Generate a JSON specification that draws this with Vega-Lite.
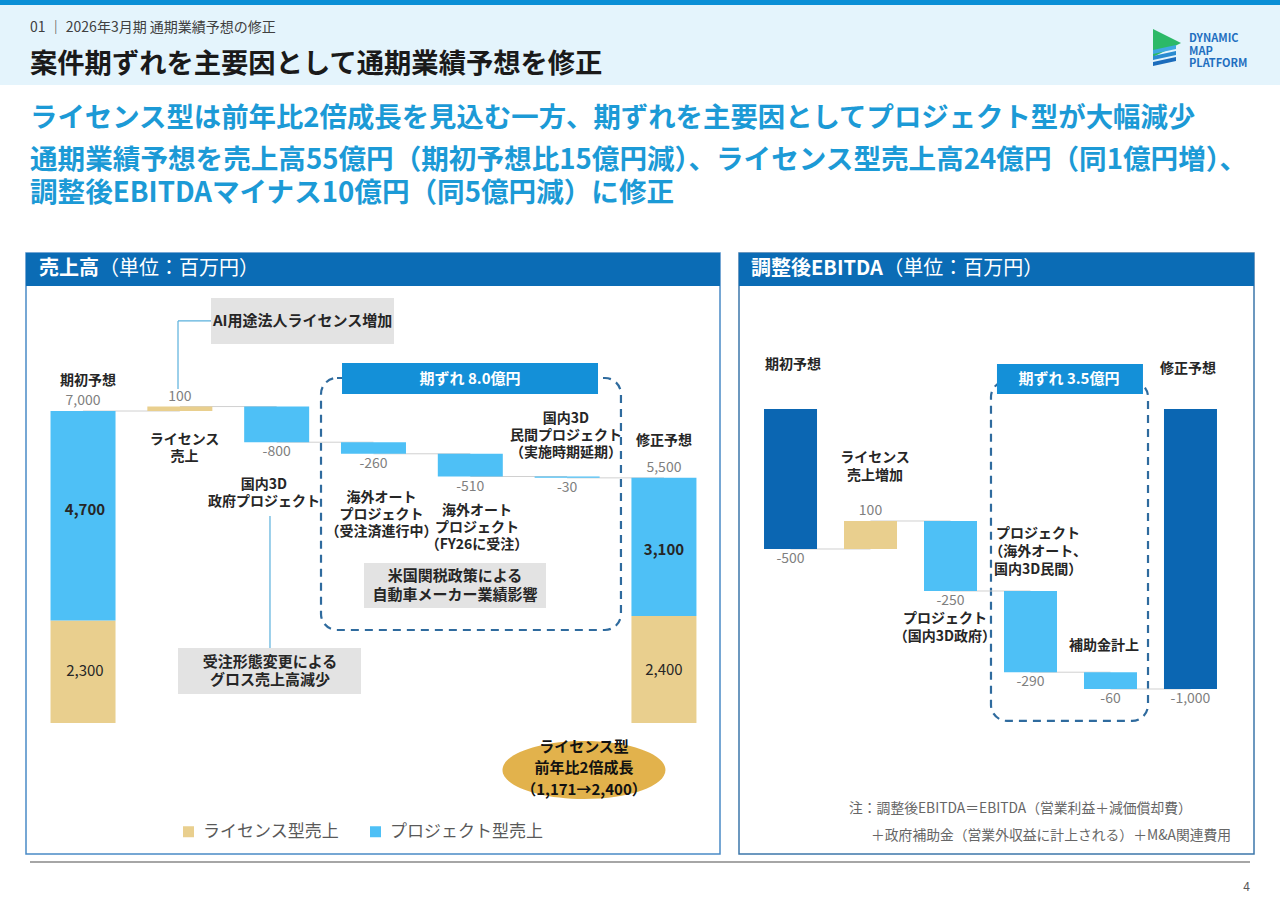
{
  "$schema": "https://vega.github.io/schema/vega-lite/v6.json",
  "padding": 0,
  "background": "#ffffff",
  "spacing": 0,
  "config": {
    "font": "Noto Sans CJK JP",
    "view": {"stroke": null},
    "locale": {"number": {"decimal": ".", "thousands": ",", "grouping": [3], "currency": ["", ""], "minus": "-"}},
    "concat": {"spacing": 0}
  },
  "datasets": {
    "sales_header": [{"panel": "売上高", "pos": -0.589, "pos2": 6.579, "val": 9805, "val2": 10545}],
    "sales_header_text": [
      {"label": "売上高", "part": "title", "pos": -0.454, "val": 10186},
      {"label": "（単位：百万円）", "part": "unit", "pos": 0.165, "val": 10186}
    ],
    "sales_period_frame": [{"group": "期ずれ", "pos": 2.458, "pos2": 5.556, "val": 2087, "val2": 7741}],
    "sales_period_box": [{"group": "期ずれ", "pos": 2.675, "pos2": 5.319, "val": 7382, "val2": 8077}],
    "sales_period_text": [{"label": "期ずれ 8.0億円", "pos": 3.997, "val": 7718}],
    "sales_links": [
      {"pos": 0, "pos2": 1, "val": 7000},
      {"pos": 1, "pos2": 2, "val": 7100},
      {"pos": 2, "pos2": 3, "val": 6300},
      {"pos": 3, "pos2": 4, "val": 6040},
      {"pos": 4, "pos2": 5, "val": 5530},
      {"pos": 5, "pos2": 6, "val": 5500}
    ],
    "sales_bars": [
      {"item": "期初予想", "segment": "ライセンス型売上", "pos": 0, "val": 0, "val2": 2300},
      {"item": "期初予想", "segment": "プロジェクト型売上", "pos": 0, "val": 2300, "val2": 7000},
      {"item": "ライセンス売上", "segment": "ライセンス型売上", "pos": 1, "val": 7000, "val2": 7100},
      {"item": "国内3D政府プロジェクト", "segment": "プロジェクト型売上", "pos": 2, "val": 7100, "val2": 6300},
      {"item": "海外オートプロジェクト（受注済進行中）", "segment": "プロジェクト型売上", "pos": 3, "val": 6300, "val2": 6040},
      {"item": "海外オートプロジェクト（FY26に受注）", "segment": "プロジェクト型売上", "pos": 4, "val": 6040, "val2": 5530},
      {"item": "国内3D民間プロジェクト（実施時期延期）", "segment": "プロジェクト型売上", "pos": 5, "val": 5530, "val2": 5500},
      {"item": "修正予想", "segment": "ライセンス型売上", "pos": 6, "val": 0, "val2": 2400},
      {"item": "修正予想", "segment": "プロジェクト型売上", "pos": 6, "val": 2400, "val2": 5500}
    ],
    "sales_steps": [
      {"item": "期初予想", "pos": 0, "start": 0, "val": 7000, "amount": 7000},
      {"item": "ライセンス売上", "pos": 1, "start": 7000, "val": 7100, "amount": 100},
      {"item": "国内3D政府プロジェクト", "pos": 2, "start": 7100, "val": 6300, "amount": -800},
      {"item": "海外オートプロジェクト（受注済進行中）", "pos": 3, "start": 6300, "val": 6040, "amount": -260},
      {"item": "海外オートプロジェクト（FY26に受注）", "pos": 4, "start": 6040, "val": 5530, "amount": -510},
      {"item": "国内3D民間プロジェクト（実施時期延期）", "pos": 5, "start": 5530, "val": 5500, "amount": -30},
      {"item": "修正予想", "pos": 6, "start": 0, "val": 5500, "amount": 5500}
    ],
    "sales_segment_labels": [
      {"item": "期初予想", "segment": "プロジェクト型売上", "pos": 0.02, "val": 4780, "amount": 4700},
      {"item": "期初予想", "segment": "ライセンス型売上", "pos": 0.02, "val": 1167, "amount": 2300},
      {"item": "修正予想", "segment": "プロジェクト型売上", "pos": 6, "val": 3882, "amount": 3100},
      {"item": "修正予想", "segment": "ライセンス型売上", "pos": 6, "val": 1189, "amount": 2400}
    ],
    "sales_category_labels": [
      {"label": ["期初予想"], "pos": 0.052, "val": 7673},
      {"label": ["ライセンス", "売上"], "pos": 1.048, "val": 6350},
      {"label": ["国内3D", "政府プロジェクト"], "pos": 1.869, "val": 5340},
      {"label": ["海外オート", "プロジェクト", "（受注済進行中）"], "pos": 3.083, "val": 5048},
      {"label": ["海外オート", "プロジェクト", "（FY26に受注）"], "pos": 4.069, "val": 4757},
      {"label": ["国内3D", "民間プロジェクト", "（実施時期延期）"], "pos": 4.988, "val": 6821},
      {"label": ["修正予想"], "pos": 6.0, "val": 6327}
    ],
    "sales_notes": [
      {"note": "AI用途法人ライセンス増加", "pos": 1.322, "pos2": 3.212, "val": 8504, "val2": 9536},
      {"note": "米国関税政策による自動車メーカー業績影響", "pos": 2.902, "pos2": 4.782, "val": 2580, "val2": 3590},
      {"note": "受注形態変更によるグロス売上高減少", "pos": 0.981, "pos2": 2.871, "val": 651, "val2": 1683}
    ],
    "sales_note_texts": [
      {"label": ["AI用途法人ライセンス増加"], "pos": 2.267, "val": 9020},
      {"label": ["米国関税政策による", "自動車メーカー業績影響"], "pos": 3.842, "val": 3298},
      {"label": ["受注形態変更による", "グロス売上高減少"], "pos": 1.931, "val": 1369}
    ],
    "sales_leaders": [
      {"pos": 0.981, "pos2": 0.981, "val": 7494, "val2": 9020},
      {"pos": 0.981, "pos2": 1.322, "val": 9020, "val2": 9020},
      {"pos": 1.931, "pos2": 1.931, "val": 4644, "val2": 1683}
    ],
    "sales_highlight": [{"note": "ライセンス型 前年比2倍成長（1,171→2,400）", "pos": 5.174, "val": -1055}],
    "sales_highlight_text": [{"label": ["ライセンス型", "前年比2倍成長", "（1,171→2,400）"], "pos": 5.174, "val": -538}],
    "ebitda_header": [{"panel": "調整後EBITDA", "pos": -0.644, "pos2": 5.794, "val": 439.3, "val2": 557.1}],
    "ebitda_header_text": [
      {"label": "調整後EBITDA", "part": "title", "pos": -0.494, "val": 500},
      {"label": "（単位：百万円）", "part": "unit", "pos": 1.16, "val": 500}
    ],
    "ebitda_period_frame": [{"group": "期ずれ", "pos": 2.506, "pos2": 4.469, "val": -1114, "val2": 100}],
    "ebitda_period_box": [{"group": "期ずれ", "pos": 2.581, "pos2": 4.406, "val": 53.6, "val2": 160.7}],
    "ebitda_period_text": [{"label": "期ずれ 3.5億円", "pos": 3.481, "val": 107}],
    "ebitda_links": [
      {"pos": 0, "pos2": 1, "val": -500},
      {"pos": 1, "pos2": 2, "val": -400},
      {"pos": 2, "pos2": 3, "val": -650},
      {"pos": 3, "pos2": 4, "val": -940},
      {"pos": 4, "pos2": 5, "val": -1000}
    ],
    "ebitda_bars": [
      {"item": "期初予想", "change": "合計", "pos": 0, "val": 0, "val2": -500},
      {"item": "ライセンス売上増加", "change": "増加", "pos": 1, "val": -500, "val2": -400},
      {"item": "プロジェクト（国内3D政府）", "change": "減少", "pos": 2, "val": -400, "val2": -650},
      {"item": "プロジェクト（海外オート、国内3D民間）", "change": "減少", "pos": 3, "val": -650, "val2": -940},
      {"item": "補助金計上", "change": "減少", "pos": 4, "val": -940, "val2": -1000},
      {"item": "修正予想", "change": "合計", "pos": 5, "val": 0, "val2": -1000}
    ],
    "ebitda_steps": [
      {"item": "期初予想", "pos": 0, "start": 0, "val": -500, "amount": -500},
      {"item": "ライセンス売上増加", "pos": 1, "start": -500, "val": -400, "amount": 100},
      {"item": "プロジェクト（国内3D政府）", "pos": 2, "start": -400, "val": -650, "amount": -250},
      {"item": "プロジェクト（海外オート、国内3D民間）", "pos": 3, "start": -650, "val": -940, "amount": -290},
      {"item": "補助金計上", "pos": 4, "start": -940, "val": -1000, "amount": -60},
      {"item": "修正予想", "pos": 5, "start": 0, "val": -1000, "amount": -1000}
    ],
    "ebitda_category_labels": [
      {"label": ["期初予想"], "pos": 0.031, "val": 157},
      {"label": ["修正予想"], "pos": 4.969, "val": 143},
      {"label": ["ライセンス", "売上増加"], "pos": 1.056, "val": -175},
      {"label": ["プロジェクト", "（国内3D政府）"], "pos": 1.931, "val": -750},
      {"label": ["プロジェクト", "（海外オート、", "国内3D民間）"], "pos": 3.094, "val": -446},
      {"label": ["補助金計上"], "pos": 3.919, "val": -846}
    ],
    "ebitda_notes": [
      {"label": "注：調整後EBITDA＝EBITDA（営業利益＋減価償却費）", "pos": 0.731, "val": -1429},
      {"label": "＋政府補助金（営業外収益に計上される）＋M&A関連費用", "pos": 1.006, "val": -1525}
    ]
  },
  "vconcat": [
    {"width": 1280, "height": 5, "view": {"fill": "#0a8fd6", "stroke": null}, "data": {"values": []}, "mark": "point"},
    {
      "spacing": 0,
      "hconcat": [
        {
          "width": 1145, "height": 80, "view": {"fill": "#e4f4fc", "stroke": null},
          "data": {"values": []}, "mark": "point",
          "title": {
            "text": "01 ｜ 2026年3月期 通期業績予想の修正",
            "subtitle": "案件期ずれを主要因として通期業績予想を修正",
            "anchor": "start", "frame": "group", "dx": 30, "offset": -73,
            "fontSize": 14, "fontWeight": "normal", "color": "#404040",
            "subtitleFontSize": 27.3, "subtitleFontWeight": "bold", "subtitleColor": "#1a1a1a",
            "subtitlePadding": 16
          }
        },
        {
          "width": 40, "height": 80, "view": {"fill": "#e4f4fc", "stroke": null},
          "data": {"values": [{"brand": "DYNAMIC MAP PLATFORM"}]},
          "layer": [
            {"mark": {"type": "point", "shape": "M -0.6 -0.8 L 0.8 -0.1 L -0.6 0.6 Z", "size": 1600, "filled": true, "color": "#2cb967", "opacity": 1, "strokeWidth": 0}},
            {"mark": {"type": "point", "shape": "M -0.6 0.25 L 0.55 0.0 L 0.55 0.2 L -0.6 0.45 Z", "size": 1600, "filled": true, "color": "#3fa9e0", "opacity": 1, "strokeWidth": 0}},
            {"mark": {"type": "point", "shape": "M -0.6 0.55 L 0.55 0.3 L 0.55 0.5 L -0.6 0.75 Z", "size": 1600, "filled": true, "color": "#2a8bd0", "opacity": 1, "strokeWidth": 0}},
            {"mark": {"type": "point", "shape": "M -0.6 0.85 L 0.55 0.6 L 0.55 0.8 L -0.6 1.05 Z", "size": 1600, "filled": true, "color": "#1b6cbc", "opacity": 1, "strokeWidth": 0}}
          ]
        },
        {
          "width": 95, "height": 80, "view": {"fill": "#e4f4fc", "stroke": null},
          "data": {"values": []}, "mark": "point",
          "title": {
            "text": ["DYNAMIC", "MAP", "PLATFORM"],
            "anchor": "start", "frame": "group", "dx": 4, "offset": -64,
            "fontSize": 11, "fontWeight": "bold", "color": "#1f6fc0", "lineHeight": 12.5
          }
        }
      ]
    },
    {
      "width": 1280, "height": 167,
      "data": {"values": []}, "mark": "point",
      "title": {
        "text": "ライセンス型は前年比2倍成長を見込む一方、期ずれを主要因としてプロジェクト型が大幅減少",
        "subtitle": ["通期業績予想を売上高55億円（期初予想比15億円減）、ライセンス型売上高24億円（同1億円増）、", "調整後EBITDAマイナス10億円（同5億円減）に修正"],
        "anchor": "start", "frame": "group", "dx": 30, "offset": -123,
        "fontSize": 27.4, "fontWeight": "bold", "color": "#1c9ad6",
        "subtitleFontSize": 27.6, "subtitleFontWeight": "bold", "subtitleColor": "#1c9ad6",
        "subtitleLineHeight": 33.3, "subtitlePadding": 15
      }
    },
    {
      "spacing": 0,
      "resolve": {"scale": {"color": "independent", "x": "independent", "y": "independent"}, "legend": {"color": "independent"}},
      "hconcat": [
        {"width": 25, "height": 601, "data": {"values": []}, "mark": "point"},
        {
          "width": 694, "height": 601,
          "view": {"fill": "#ffffff", "stroke": "#4a8ac6", "strokeWidth": 1.5},
          "encoding": {
            "x": {"field": "pos", "type": "quantitative", "scale": {"domain": [-0.589, 6.579], "nice": false, "zero": false, "padding": 0}, "axis": null},
            "y": {"field": "val", "type": "quantitative", "scale": {"domain": [-2939, 10545], "nice": false, "zero": false, "padding": 0}, "axis": null}
          },
          "layer": [
            {"data": {"name": "sales_header"}, "mark": {"type": "rect", "color": "#0b6cb5"}, "encoding": {"x2": {"field": "pos2"}, "y2": {"field": "val2"}}},
            {"data": {"name": "sales_period_frame"}, "mark": {"type": "rect", "fill": null, "filled": false, "stroke": "#2f6b9e", "strokeWidth": 2.2, "strokeDash": [8, 6], "cornerRadius": 16}, "encoding": {"x2": {"field": "pos2"}, "y2": {"field": "val2"}}},
            {"data": {"name": "sales_links"}, "mark": {"type": "rule", "color": "#d0d0d0", "strokeWidth": 1}, "encoding": {"x2": {"field": "pos2"}}},
            {
              "data": {"name": "sales_bars"},
              "mark": {"type": "bar", "width": 65},
              "encoding": {
                "y2": {"field": "val2"},
                "color": {
                  "field": "segment", "type": "nominal",
                  "scale": {"domain": ["ライセンス型売上", "プロジェクト型売上"], "range": ["#e9cf8e", "#4ec0f6"]},
                  "legend": {"orient": "none", "legendX": 154, "legendY": 570, "direction": "horizontal", "title": null, "labelFontSize": 17, "labelColor": "#595959", "symbolType": "square", "symbolSize": 121, "symbolStrokeWidth": 0, "columnPadding": 28, "labelOffset": 6}
                }
              }
            },
            {"data": {"name": "sales_notes"}, "mark": {"type": "rect", "color": "#e3e3e3"}, "encoding": {"x2": {"field": "pos2"}, "y2": {"field": "val2"}}},
            {"data": {"name": "sales_period_box"}, "mark": {"type": "rect", "color": "#1490d8"}, "encoding": {"x2": {"field": "pos2"}, "y2": {"field": "val2"}}},
            {"data": {"name": "sales_leaders"}, "mark": {"type": "rule", "color": "#5ab0dc", "strokeWidth": 1.2}, "encoding": {"x2": {"field": "pos2"}, "y2": {"field": "val2"}}},
            {"data": {"name": "sales_highlight"}, "mark": {"type": "point", "shape": "M -1 0 A 1 0.356 0 1 1 1 0 A 1 0.356 0 1 1 -1 0 Z", "size": 26569, "filled": true, "color": "#e2b24c", "opacity": 1, "strokeWidth": 0}},
            {"data": {"name": "sales_steps"}, "transform": [{"filter": "datum.val >= datum.start"}], "mark": {"type": "text", "baseline": "bottom", "dy": -3, "fontSize": 14, "color": "#7f7f7f"}, "encoding": {"text": {"field": "amount", "type": "quantitative", "format": ","}}},
            {"data": {"name": "sales_steps"}, "transform": [{"filter": "datum.val < datum.start"}], "mark": {"type": "text", "baseline": "top", "dy": 3, "fontSize": 14, "color": "#7f7f7f"}, "encoding": {"text": {"field": "amount", "type": "quantitative", "format": ","}}},
            {"data": {"name": "sales_segment_labels"}, "transform": [{"filter": "datum.segment == 'プロジェクト型売上'"}], "mark": {"type": "text", "baseline": "middle", "fontSize": 15, "fontWeight": "bold", "color": "#262626"}, "encoding": {"text": {"field": "amount", "type": "quantitative", "format": ","}}},
            {"data": {"name": "sales_segment_labels"}, "transform": [{"filter": "datum.segment == 'ライセンス型売上'"}], "mark": {"type": "text", "baseline": "middle", "fontSize": 15, "color": "#262626"}, "encoding": {"text": {"field": "amount", "type": "quantitative", "format": ","}}},
            {"data": {"name": "sales_category_labels"}, "mark": {"type": "text", "baseline": "middle", "fontSize": 14, "fontWeight": "bold", "color": "#262626", "lineHeight": 17}, "encoding": {"text": {"field": "label"}}},
            {"data": {"name": "sales_note_texts"}, "mark": {"type": "text", "baseline": "middle", "fontSize": 15, "fontWeight": "bold", "color": "#262626", "lineHeight": 18.5}, "encoding": {"text": {"field": "label"}}},
            {"data": {"name": "sales_period_text"}, "mark": {"type": "text", "baseline": "middle", "fontSize": 15, "fontWeight": "bold", "color": "#ffffff"}, "encoding": {"text": {"field": "label"}}},
            {"data": {"name": "sales_highlight_text"}, "mark": {"type": "text", "baseline": "middle", "fontSize": 15, "fontWeight": "bold", "color": "#111111", "lineHeight": 21.5}, "encoding": {"text": {"field": "label"}}},
            {"data": {"name": "sales_header_text"}, "transform": [{"filter": "datum.part == 'title'"}], "mark": {"type": "text", "align": "left", "baseline": "middle", "fontSize": 20, "fontWeight": "bold", "color": "#ffffff"}, "encoding": {"text": {"field": "label"}}},
            {"data": {"name": "sales_header_text"}, "transform": [{"filter": "datum.part == 'unit'"}], "mark": {"type": "text", "align": "left", "baseline": "middle", "fontSize": 20, "color": "#ffffff"}, "encoding": {"text": {"field": "label"}}}
          ]
        },
        {"width": 17, "height": 601, "data": {"values": []}, "mark": "point"},
        {
          "width": 515, "height": 601,
          "view": {"fill": "#ffffff", "stroke": "#3d77aa", "strokeWidth": 1.5},
          "encoding": {
            "x": {"field": "pos", "type": "quantitative", "scale": {"domain": [-0.644, 5.794], "nice": false, "zero": false, "padding": 0}, "axis": null},
            "y": {"field": "val", "type": "quantitative", "scale": {"domain": [-1589.3, 557.1], "nice": false, "zero": false, "padding": 0}, "axis": null}
          },
          "layer": [
            {"data": {"name": "ebitda_header"}, "mark": {"type": "rect", "color": "#0b6cb5"}, "encoding": {"x2": {"field": "pos2"}, "y2": {"field": "val2"}}},
            {"data": {"name": "ebitda_period_frame"}, "mark": {"type": "rect", "fill": null, "filled": false, "stroke": "#2f6b9e", "strokeWidth": 2.2, "strokeDash": [8, 6], "cornerRadius": 16}, "encoding": {"x2": {"field": "pos2"}, "y2": {"field": "val2"}}},
            {"data": {"name": "ebitda_links"}, "mark": {"type": "rule", "color": "#d0d0d0", "strokeWidth": 1}, "encoding": {"x2": {"field": "pos2"}}},
            {
              "data": {"name": "ebitda_bars"},
              "mark": {"type": "bar", "width": 53},
              "encoding": {
                "y2": {"field": "val2"},
                "color": {"field": "change", "type": "nominal", "scale": {"domain": ["合計", "増加", "減少"], "range": ["#0b66b2", "#e9cf8e", "#4ec0f6"]}, "legend": null}
              }
            },
            {"data": {"name": "ebitda_period_box"}, "mark": {"type": "rect", "color": "#1490d8"}, "encoding": {"x2": {"field": "pos2"}, "y2": {"field": "val2"}}},
            {"data": {"name": "ebitda_steps"}, "transform": [{"filter": "datum.val >= datum.start"}], "mark": {"type": "text", "baseline": "bottom", "dy": -3, "fontSize": 14, "color": "#7f7f7f"}, "encoding": {"text": {"field": "amount", "type": "quantitative", "format": ","}}},
            {"data": {"name": "ebitda_steps"}, "transform": [{"filter": "datum.val < datum.start"}], "mark": {"type": "text", "baseline": "top", "dy": 3, "fontSize": 14, "color": "#7f7f7f"}, "encoding": {"text": {"field": "amount", "type": "quantitative", "format": ","}}},
            {"data": {"name": "ebitda_category_labels"}, "mark": {"type": "text", "baseline": "middle", "fontSize": 14, "fontWeight": "bold", "color": "#262626", "lineHeight": 18}, "encoding": {"text": {"field": "label"}}},
            {"data": {"name": "ebitda_period_text"}, "mark": {"type": "text", "baseline": "middle", "fontSize": 15, "fontWeight": "bold", "color": "#ffffff"}, "encoding": {"text": {"field": "label"}}},
            {"data": {"name": "ebitda_notes"}, "mark": {"type": "text", "align": "left", "baseline": "middle", "fontSize": 13.8, "color": "#666666"}, "encoding": {"text": {"field": "label"}}},
            {"data": {"name": "ebitda_header_text"}, "transform": [{"filter": "datum.part == 'title'"}], "mark": {"type": "text", "align": "left", "baseline": "middle", "fontSize": 20, "fontWeight": "bold", "color": "#ffffff"}, "encoding": {"text": {"field": "label"}}},
            {"data": {"name": "ebitda_header_text"}, "transform": [{"filter": "datum.part == 'unit'"}], "mark": {"type": "text", "align": "left", "baseline": "middle", "fontSize": 20, "color": "#ffffff"}, "encoding": {"text": {"field": "label"}}}
          ]
        },
        {"width": 27, "height": 601, "data": {"values": []}, "mark": "point"}
      ]
    },
    {"width": 1280, "height": 6, "data": {"values": []}, "mark": "point"},
    {
      "spacing": 0,
      "hconcat": [
        {"width": 30, "height": 2, "data": {"values": []}, "mark": "point"},
        {"width": 1220, "height": 2, "view": {"fill": "#a6a6a6", "stroke": null}, "data": {"values": []}, "mark": "point"}
      ]
    },
    {
      "width": 1280, "height": 44, "data": {"values": []}, "mark": "point",
      "title": {"text": "4", "anchor": "end", "frame": "group", "dx": -30, "offset": -31, "fontSize": 12, "fontWeight": "normal", "color": "#595959"}
    }
  ]
}
